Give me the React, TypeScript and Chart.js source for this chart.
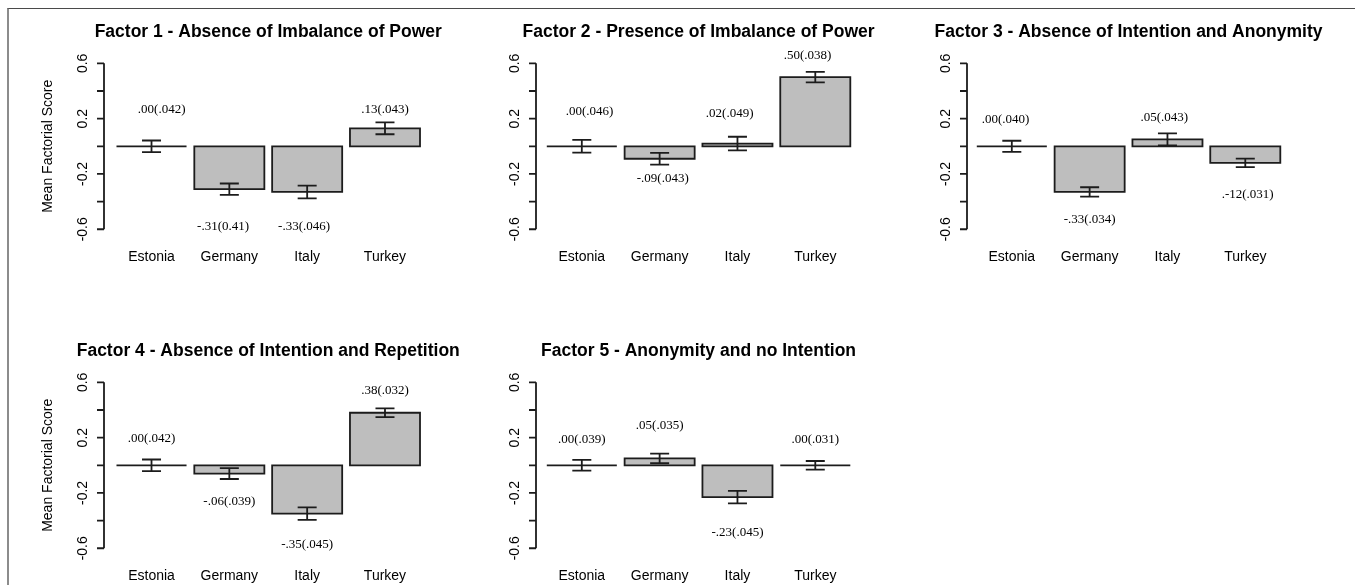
import React, { useEffect, useRef } from "react";
import { Chart, registerables } from "chart.js";

Chart.register(...registerables);

// ---------------- data ----------------
const countries = ["Estonia", "Germany", "Italy", "Turkey"];
const yTickValues = [-0.6, -0.4, -0.2, 0, 0.2, 0.4, 0.6];
const yTickLabels = ["-0.6", "", "-0.2", "", "0.2", "", "0.6"];
const yAxisTitle = "Mean Factorial Score";

const f1Title = "Factor 1 - Absence of Imbalance of Power";
const f1Means = [0.0, -0.31, -0.33, 0.13];
const f1SE = [0.042, 0.041, 0.046, 0.043];
const f1Labels = [".00(.042)", "-.31(0.41)", "-.33(.046)", ".13(.043)"];
const f1LabelY = [0.262, -0.581, -0.583, 0.262];
const f1LabelShift = [0.13, -0.08, -0.04, 0];

const f2Title = "Factor 2 - Presence of Imbalance of Power";
const f2Means = [0.0, -0.09, 0.02, 0.5];
const f2SE = [0.046, 0.043, 0.049, 0.038];
const f2Labels = [".00(.046)", "-.09(.043)", ".02(.049)", ".50(.038)"];
const f2LabelY = [0.25, -0.231, 0.239, 0.653];
const f2LabelShift = [0.1, 0.04, -0.1, -0.1];

const f3Title = "Factor 3 - Absence of Intention and Anonymity";
const f3Means = [0.0, -0.33, 0.05, -0.12];
const f3SE = [0.04, 0.034, 0.043, 0.031];
const f3Labels = [".00(.040)", "-.33(.034)", ".05(.043)", ".-12(.031)"];
const f3LabelY = [0.19, -0.533, 0.21, -0.352];
const f3LabelShift = [-0.08, 0, -0.04, 0.03];

const f4Title = "Factor 4 - Absence of Intention and Repetition";
const f4Means = [0.0, -0.06, -0.35, 0.38];
const f4SE = [0.042, 0.039, 0.045, 0.032];
const f4Labels = [".00(.042)", "-.06(.039)", "-.35(.045)", ".38(.032)"];
const f4LabelY = [0.195, -0.263, -0.576, 0.544];
const f4LabelShift = [0, 0, 0, 0];

const f5Title = "Factor 5 - Anonymity and no Intention";
const f5Means = [0.0, 0.05, -0.23, 0.0];
const f5SE = [0.039, 0.035, 0.045, 0.031];
const f5Labels = [".00(.039)", ".05(.035)", "-.23(.045)", ".00(.031)"];
const f5LabelY = [0.188, 0.285, -0.485, 0.188];
const f5LabelShift = [0, 0, 0, 0];

// ---------------- layout & style ----------------
const SANS = "'Liberation Sans', Arial, sans-serif";
const SERIF = "'Liberation Serif', 'Times New Roman', serif";
const INK = "#1c1c1c";
const BAR_FILL = "#bebebe";
const LINE_W = 1.8;

const colCanvasLeft = [0, 432, 863];
const colCanvasWidth = [470, 470, 492];
const colChartLeft = [112.6, 542.9, 972.9]; // page coords
const colAxisX = [104, 536, 967];
const CHART_W = 311.3;
const rowCanvasTop = [0, 319];
const rowCanvasHeight = [290, 266];
const CHART_TOP = 56.7;
const CHART_BOTTOM = 235.9;
const Y_MIN = -0.648;
const Y_MAX = 0.648;

type PanelDef = {
  title: string;
  means: number[];
  se: number[];
  labels: string[];
  labelY: number[];
  labelShift: number[];
  row: number;
  col: number;
  yTitle: boolean;
};

const panels: PanelDef[] = [
  { title: f1Title, means: f1Means, se: f1SE, labels: f1Labels, labelY: f1LabelY, labelShift: f1LabelShift, row: 0, col: 0, yTitle: true },
  { title: f2Title, means: f2Means, se: f2SE, labels: f2Labels, labelY: f2LabelY, labelShift: f2LabelShift, row: 0, col: 1, yTitle: false },
  { title: f3Title, means: f3Means, se: f3SE, labels: f3Labels, labelY: f3LabelY, labelShift: f3LabelShift, row: 0, col: 2, yTitle: false },
  { title: f4Title, means: f4Means, se: f4SE, labels: f4Labels, labelY: f4LabelY, labelShift: f4LabelShift, row: 1, col: 0, yTitle: true },
  { title: f5Title, means: f5Means, se: f5SE, labels: f5Labels, labelY: f5LabelY, labelShift: f5LabelShift, row: 1, col: 1, yTitle: false },
];

const rStylePlugin = {
  id: "rStyle",
  afterDatasetsDraw(chart: any, _args: any, opts: any) {
    const { ctx, chartArea } = chart;
    const xs = chart.scales.x;
    const ys = chart.scales.y;
    const p: PanelDef = opts.panel;
    const meta = chart.getDatasetMeta(0);
    const slot = xs.getPixelForValue(1) - xs.getPixelForValue(0);

    ctx.save();
    ctx.strokeStyle = INK;
    ctx.lineWidth = LINE_W;

    // bar outlines (zero-valued bars show as a line, like R)
    meta.data.forEach((bar: any) => {
      const { x, y, base, width } = bar.getProps(["x", "y", "base", "width"], true);
      ctx.beginPath();
      ctx.rect(x - width / 2, Math.min(y, base), width, Math.abs(base - y));
      ctx.stroke();
    });

    // error bars (mean +/- SE)
    meta.data.forEach((bar: any, i: number) => {
      const { x } = bar.getProps(["x"], true);
      const top = ys.getPixelForValue(p.means[i] + p.se[i]);
      const bot = ys.getPixelForValue(p.means[i] - p.se[i]);
      const cap = 9.5;
      ctx.beginPath();
      ctx.moveTo(x, top);
      ctx.lineTo(x, bot);
      ctx.moveTo(x - cap, top);
      ctx.lineTo(x + cap, top);
      ctx.moveTo(x - cap, bot);
      ctx.lineTo(x + cap, bot);
      ctx.stroke();
    });

    // value labels
    ctx.fillStyle = "#000";
    ctx.font = `13px ${SERIF}`;
    ctx.textAlign = "center";
    ctx.textBaseline = "middle";
    meta.data.forEach((bar: any, i: number) => {
      const { x } = bar.getProps(["x"], true);
      ctx.fillText(p.labels[i], x + p.labelShift[i] * slot, ys.getPixelForValue(p.labelY[i]));
    });

    // R-style y axis
    const ax = opts.axisX;
    const yTop = ys.getPixelForValue(yTickValues[yTickValues.length - 1]);
    const yBot = ys.getPixelForValue(yTickValues[0]);
    ctx.strokeStyle = INK;
    ctx.lineWidth = LINE_W;
    ctx.beginPath();
    ctx.moveTo(ax, yTop);
    ctx.lineTo(ax, yBot);
    yTickValues.forEach((v) => {
      const py = ys.getPixelForValue(v);
      ctx.moveTo(ax - 7, py);
      ctx.lineTo(ax, py);
    });
    ctx.stroke();

    ctx.font = `14px ${SANS}`;
    ctx.textAlign = "center";
    ctx.textBaseline = "alphabetic";
    yTickValues.forEach((v, i) => {
      if (!yTickLabels[i]) return;
      const py = ys.getPixelForValue(v);
      ctx.save();
      ctx.translate(ax - 17.3, py);
      ctx.rotate(-Math.PI / 2);
      ctx.fillText(yTickLabels[i], 0, 0);
      ctx.restore();
    });

    if (p.yTitle) {
      ctx.save();
      ctx.translate(ax - 52, (chartArea.top + chartArea.bottom) / 2);
      ctx.rotate(-Math.PI / 2);
      ctx.fillText(yAxisTitle, 0, 0);
      ctx.restore();
    }

    // title
    ctx.font = `bold 17.5px ${SANS}`;
    ctx.textAlign = "center";
    ctx.textBaseline = "alphabetic";
    ctx.fillText(p.title, (chartArea.left + chartArea.right) / 2, 37.4);

    ctx.restore();
  },
};

function Panel({ panel }: { panel: PanelDef }) {
  const ref = useRef<HTMLCanvasElement | null>(null);
  const canvasLeft = colCanvasLeft[panel.col];
  const canvasWidth = colCanvasWidth[panel.col];
  const canvasTop = rowCanvasTop[panel.row];
  const canvasHeight = rowCanvasHeight[panel.row];
  const padLeft = colChartLeft[panel.col] - canvasLeft;
  const padRight = canvasWidth - padLeft - CHART_W;
  const axisX = colAxisX[panel.col] - canvasLeft;

  useEffect(() => {
    if (!ref.current) return;
    const chart = new Chart(ref.current, {
      type: "bar",
      data: {
        labels: countries,
        datasets: [
          {
            data: panel.means,
            backgroundColor: BAR_FILL,
            borderWidth: 0,
            barPercentage: 0.9,
            categoryPercentage: 1.0,
          },
        ],
      },
      options: {
        responsive: false,
        animation: false,
        events: [],
        layout: { padding: { left: padLeft, right: padRight, top: CHART_TOP, bottom: 0 } },
        plugins: {
          legend: { display: false },
          title: { display: false },
          tooltip: { enabled: false },
          rStyle: { panel, axisX },
        } as any,
        scales: {
          x: {
            type: "category",
            offset: true,
            grid: { display: false, drawTicks: false },
            border: { display: false },
            ticks: { color: "#000", font: { family: SANS, size: 14 }, padding: 12.5, maxRotation: 0, autoSkip: false },
            afterFit: (scale: any) => {
              scale.height = canvasHeight - CHART_BOTTOM;
            },
          },
          y: {
            display: false,
            min: Y_MIN,
            max: Y_MAX,
          },
        },
      },
      plugins: [rStylePlugin],
    });
    return () => chart.destroy();
  }, []);

  return (
    <canvas
      ref={ref}
      width={canvasWidth}
      height={canvasHeight}
      style={{ position: "absolute", left: canvasLeft, top: canvasTop, width: canvasWidth, height: canvasHeight }}
    />
  );
}

export default function App() {
  return (
    <div style={{ position: "absolute", left: 0, top: 0, width: 1355, height: 585, overflow: "hidden", background: "#fff" }}>
      <div
        style={{
          position: "absolute",
          left: 7,
          top: 8,
          width: 1348,
          height: 577,
          borderTop: "1.5px solid #4a4a4a",
          borderLeft: "2px solid #8c8c8c",
          boxSizing: "border-box",
        }}
      />
      {panels.map((p, i) => (
        <Panel key={i} panel={p} />
      ))}
    </div>
  );
}
